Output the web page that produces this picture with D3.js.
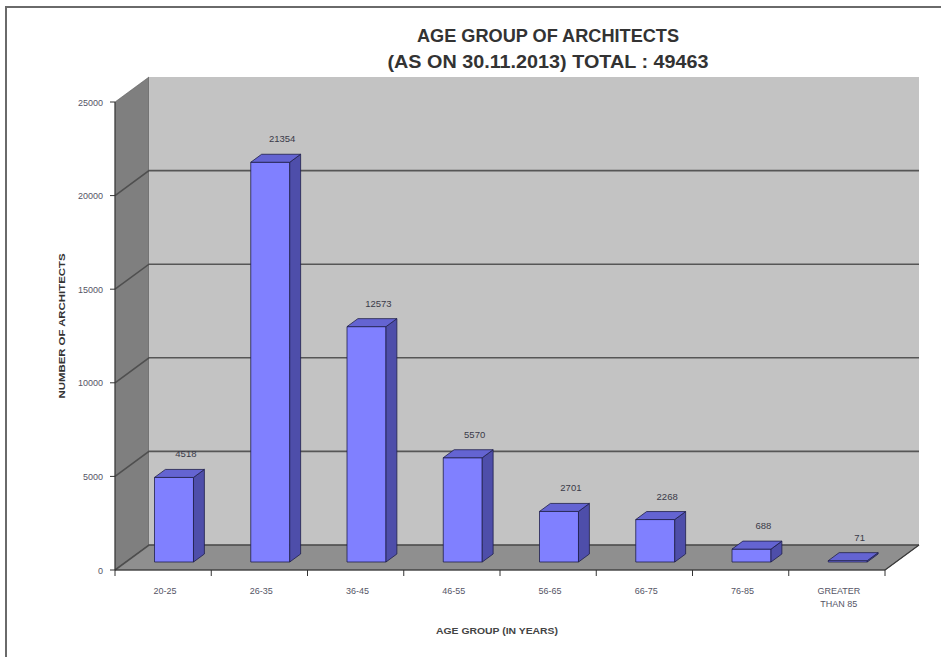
<!DOCTYPE html>
<html>
<head>
<meta charset="utf-8">
<script src="https://cdn.jsdelivr.net/npm/d3@7"></script>
<style>
  html, body { margin: 0; padding: 0; background: #fff; }
  svg { display: block; }
  text { font-family: "Liberation Sans", Arial, sans-serif; }
</style>
</head>
<body>
<svg id="chart" width="941" height="657"></svg>
<script>
// ---- data ----
const categories = ["20-25", "26-35", "36-45", "46-55", "56-65", "66-75", "76-85", "GREATER THAN 85"];
const values = [4518, 21354, 12573, 5570, 2701, 2268, 688, 71];
const yTicks = [0, 5000, 10000, 15000, 20000, 25000];
const titleLines = ["AGE GROUP OF ARCHITECTS", "(AS ON 30.11.2013) TOTAL : 49463"];
const xAxisTitle = "AGE GROUP (IN YEARS)";
const yAxisTitle = "NUMBER OF ARCHITECTS";

// ---- layout ----
const svg = d3.select("#chart");
const depthX = 34, depthY = -25;       // full 3D depth vector
const barZ0 = 0.32, barZ1 = 0.64;       // bar position inside depth

const x = d3.scaleBand().domain(categories).range([115, 885]).padding(0);
const y = d3.scaleLinear().domain([0, 25000]).range([570, 102]);
const P = (px, py, z) => [px + depthX * z, py + depthY * z];

// frame
svg.append("rect").attr("x", 6).attr("y", 7).attr("width", 1000).attr("height", 1000)
  .attr("fill", "none").attr("stroke", "#6a6a6a").attr("stroke-width", 2);

const x0 = x.range()[0], x1 = x.range()[1];
const yBot = y(0), yTop = y(25000);
const poly = pts => pts.map(p => p.join(",")).join(" ");

// side wall
svg.append("polygon")
  .attr("points", poly([P(x0, yBot, 0), P(x0, yTop, 0), P(x0, yTop, 1), P(x0, yBot, 1)]))
  .attr("fill", "#7f7f7f").attr("stroke", "#5a5a5a").attr("stroke-width", 0.6);
// back wall
svg.append("polygon")
  .attr("points", poly([P(x0, yTop, 1), P(x1, yTop, 1), P(x1, yBot, 1), P(x0, yBot, 1)]))
  .attr("fill", "#c3c3c3");
// floor
svg.append("polygon")
  .attr("points", poly([P(x0, yBot, 0), P(x1, yBot, 0), P(x1, yBot, 1), P(x0, yBot, 1)]))
  .attr("fill", "#8f8f8f").attr("stroke", "#5a5a5a").attr("stroke-width", 0.8);

// gridlines
yTicks.forEach(t => {
  const a = P(x0, y(t), 0), b = P(x0, y(t), 1), c = P(x1, y(t), 1);
  svg.append("polyline").attr("points", poly([a, b, c]))
    .attr("fill", "none").attr("stroke", "#4a4a4a").attr("stroke-width", 1.6)
    .attr("stroke-opacity", t === 25000 ? 0 : 0.9);
});
// right floor edge
svg.append("line")
  .attr("x1", P(x1, yBot, 0)[0]).attr("y1", P(x1, yBot, 0)[1])
  .attr("x2", P(x1, yBot, 1)[0]).attr("y2", P(x1, yBot, 1)[1])
  .attr("stroke", "#3a3a3a").attr("stroke-width", 1.2);

// bars
const frontCol = "#8080ff", topCol = "#6464d2", sideCol = "#4e4eaa", edge = "#20204a";
const bw = x.step() * 0.405;
categories.forEach((cat, i) => {
  const v = values[i];
  const cx = x(cat) + x.bandwidth() / 2;
  const l = cx - bw / 2, r = cx + bw / 2;
  const yt = y(v), yb = y(0);
  const g = svg.append("g");
  g.append("polygon").attr("points", poly([P(l, yb, barZ0), P(r, yb, barZ0), P(r, yt, barZ0), P(l, yt, barZ0)]))
    .attr("fill", frontCol).attr("stroke", edge).attr("stroke-width", 0.8);
  g.append("polygon").attr("points", poly([P(r, yb, barZ0), P(r, yb, barZ1), P(r, yt, barZ1), P(r, yt, barZ0)]))
    .attr("fill", sideCol).attr("stroke", edge).attr("stroke-width", 0.8);
  g.append("polygon").attr("points", poly([P(l, yt, barZ0), P(r, yt, barZ0), P(r, yt, barZ1), P(l, yt, barZ1)]))
    .attr("fill", topCol).attr("stroke", edge).attr("stroke-width", 0.8);
  const lp = P(cx, yt, barZ1);
  svg.append("text").attr("x", lp[0] + 1).attr("y", lp[1] - 12)
    .attr("text-anchor", "middle").attr("font-size", 9.5).attr("fill", "#3a3a48")
    .text(d3.format("d")(v));
});

// y axis (front plane)
const yAxisG = svg.append("g");
yAxisG.append("line").attr("x1", x0).attr("x2", x0).attr("y1", yTop).attr("y2", yBot)
  .attr("stroke", "#333").attr("stroke-width", 1);
yTicks.forEach(t => {
  yAxisG.append("line").attr("x1", x0 - 5).attr("x2", x0).attr("y1", y(t)).attr("y2", y(t))
    .attr("stroke", "#333").attr("stroke-width", 1);
  yAxisG.append("text").attr("x", 103).attr("y", y(t) + 3.5)
    .attr("text-anchor", "end").attr("font-size", 9).attr("fill", "#555566").text(t);
});

// x axis (front plane)
const xAxisG = svg.append("g");
xAxisG.append("line").attr("x1", x0).attr("x2", x1).attr("y1", yBot).attr("y2", yBot)
  .attr("stroke", "#333").attr("stroke-width", 1.2);
categories.forEach((cat, i) => {
  const bx = x(cat) + x.step();
  xAxisG.append("line").attr("x1", bx).attr("x2", bx).attr("y1", yBot).attr("y2", yBot + 6)
    .attr("stroke", "#333").attr("stroke-width", 1);
  const cx = x(cat) + x.bandwidth() / 2;
  const words = cat === "GREATER THAN 85" ? ["GREATER", "THAN 85"] : [cat];
  words.forEach((w, j) => {
    xAxisG.append("text").attr("x", cx + 2).attr("y", 594 + j * 13)
      .attr("text-anchor", "middle").attr("font-size", 9).attr("fill", "#555566").text(w);
  });
});
xAxisG.append("line").attr("x1", x0).attr("x2", x0).attr("y1", yBot).attr("y2", yBot + 6)
  .attr("stroke", "#333").attr("stroke-width", 1);

// axis titles
svg.append("text").attr("x", 497).attr("y", 634).attr("text-anchor", "middle")
  .attr("font-size", 9).attr("font-weight", "bold").attr("fill", "#444")
  .attr("textLength", 122).attr("lengthAdjust", "spacingAndGlyphs")
  .text(xAxisTitle);
svg.append("text").attr("transform", "translate(65,326) rotate(-90)").attr("text-anchor", "middle")
  .attr("font-size", 9).attr("font-weight", "bold").attr("fill", "#333")
  .attr("textLength", 145).attr("lengthAdjust", "spacingAndGlyphs")
  .text(yAxisTitle);

// title
const titleWidths = [262, 321];
titleLines.forEach((t, i) => {
  svg.append("text").attr("x", 548).attr("y", 42 + i * 26).attr("text-anchor", "middle")
    .attr("font-size", 18).attr("font-weight", "bold").attr("fill", "#333")
    .attr("textLength", titleWidths[i]).attr("lengthAdjust", "spacingAndGlyphs")
    .text(t);
});
</script>
</body>
</html>
